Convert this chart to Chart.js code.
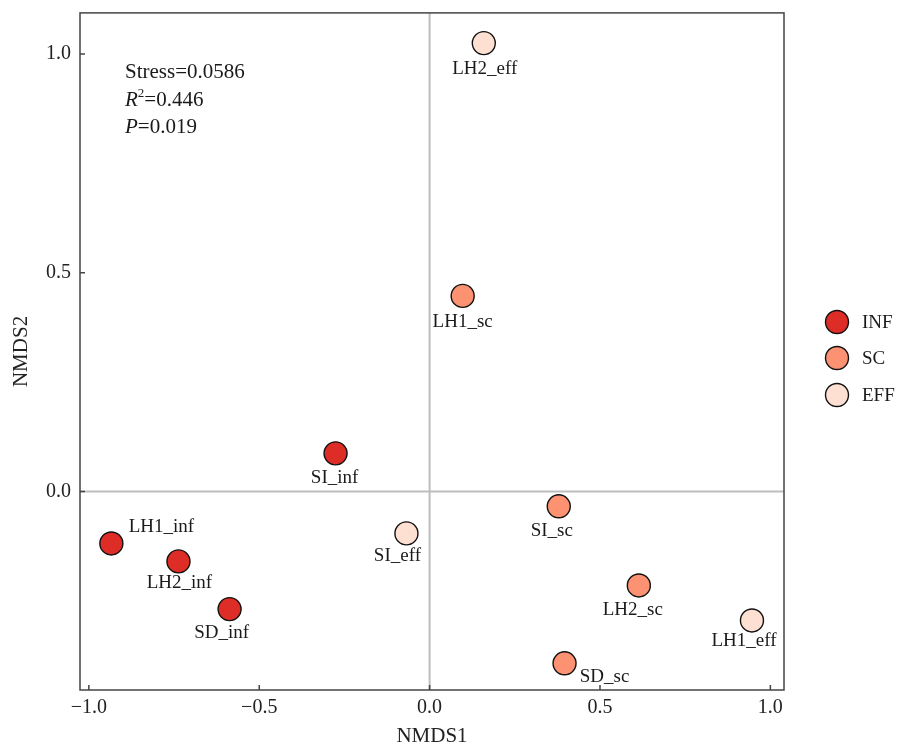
<!DOCTYPE html>
<html>
<head>
<meta charset="utf-8">
<script src="https://cdn.jsdelivr.net/npm/chart.js@4/dist/chart.umd.min.js"></script>
<style>
  html, body { margin: 0; padding: 0; background: #fff; }
  #wrap { width: 900px; height: 749px; }
</style>
</head>
<body>
<div id="wrap"><canvas id="c" width="900" height="749"></canvas></div>
<script>
// NMDS ordination scores per sample
const groups = ['INF', 'SC', 'EFF'];
const infNames = ['LH1_inf', 'LH2_inf', 'SD_inf', 'SI_inf'];
const infX = [-0.934, -0.737, -0.587, -0.276];
const infY = [-0.119, -0.160, -0.269, 0.087];
const scNames = ['LH1_sc', 'LH2_sc', 'SD_sc', 'SI_sc'];
const scX = [0.097, 0.614, 0.396, 0.379];
const scY = [0.447, -0.215, -0.393, -0.034];
const effNames = ['LH1_eff', 'LH2_eff', 'SI_eff'];
const effX = [0.946, 0.159, -0.068];
const effY = [-0.295, 1.025, -0.096];
const xTicks = [-1.0, -0.5, 0.0, 0.5, 1.0];
const yTicks = [0.0, 0.5, 1.0];
const stats = { stress: '0.0586', r2: '0.446', p: '0.019' };

const fills = { INF: '#DE2D26', SC: '#FC9272', EFF: '#FEE0D2' };
const FONT = '"Liberation Serif", "Times New Roman", serif';
const TEXT = '#1a1a1a';

// label offsets (px) relative to each point, repelled like ggrepel
const labelShift = {
  LH1_inf: [50, -16], LH2_inf: [1, 22], SD_inf: [-8, 24], SI_inf: [-1, 25],
  LH1_sc: [0, 26], LH2_sc: [-6, 25], SD_sc: [40, 14], SI_sc: [-7, 25],
  LH1_eff: [-8, 21], LH2_eff: [1, 26], SI_eff: [-9, 23]
};

function pts(xs, ys, names) {
  return xs.map((x, i) => ({ x: x, y: ys[i], name: names[i] }));
}

const datasets = [
  { label: 'INF', data: pts(infX, infY, infNames) },
  { label: 'SC', data: pts(scX, scY, scNames) },
  { label: 'EFF', data: pts(effX, effY, effNames) }
].map(d => ({
  ...d,
  backgroundColor: fills[d.label],
  borderColor: '#111',
  borderWidth: 1.4,
  pointRadius: 11.5,
  pointHoverRadius: 11.5
}));

const fmt = v => (v < 0 ? '\u2212' : '') + Math.abs(v).toFixed(1);

const decor = {
  id: 'decor',
  beforeDatasetsDraw(chart) {
    const { ctx, chartArea: a, scales: { x, y } } = chart;
    ctx.save();
    // zero reference lines
    ctx.strokeStyle = '#bdbdbd';
    ctx.lineWidth = 2;
    const x0 = x.getPixelForValue(0), y0 = y.getPixelForValue(0);
    ctx.beginPath();
    ctx.moveTo(x0, a.top); ctx.lineTo(x0, a.bottom);
    ctx.moveTo(a.left, y0); ctx.lineTo(a.right, y0);
    ctx.stroke();
    ctx.restore();
  },
  afterDatasetsDraw(chart) {
    const { ctx, chartArea: a, scales: { x, y } } = chart;
    ctx.save();
    // panel border
    ctx.strokeStyle = '#444';
    ctx.lineWidth = 1.5;
    ctx.strokeRect(a.left, a.top, a.right - a.left, a.bottom - a.top);
    // inward ticks
    ctx.beginPath();
    xTicks.forEach(v => {
      const px = x.getPixelForValue(v);
      ctx.moveTo(px, a.bottom); ctx.lineTo(px, a.bottom - 5);
    });
    yTicks.forEach(v => {
      const py = y.getPixelForValue(v);
      ctx.moveTo(a.left, py); ctx.lineTo(a.left + 5, py);
    });
    ctx.stroke();

    // point labels
    ctx.fillStyle = TEXT;
    ctx.font = '19px ' + FONT;
    ctx.textAlign = 'center';
    ctx.textBaseline = 'middle';
    chart.data.datasets.forEach(ds => {
      ds.data.forEach(p => {
        const s = labelShift[p.name] || [0, 24];
        ctx.fillText(p.name, x.getPixelForValue(p.x) + s[0], y.getPixelForValue(p.y) + s[1]);
      });
    });

    // fit statistics
    ctx.textAlign = 'left';
    ctx.textBaseline = 'alphabetic';
    const tx = a.left + 45;
    ctx.font = '21px ' + FONT;
    ctx.fillText('Stress=' + stats.stress, tx, 78);
    ctx.font = 'italic 21px ' + FONT;
    ctx.fillText('R', tx, 106);
    let w = ctx.measureText('R').width;
    ctx.font = '13px ' + FONT;
    ctx.fillText('2', tx + w, 97);
    w += ctx.measureText('2').width;
    ctx.font = '21px ' + FONT;
    ctx.fillText('=' + stats.r2, tx + w, 106);
    ctx.font = 'italic 21px ' + FONT;
    ctx.fillText('P', tx, 133);
    w = ctx.measureText('P').width;
    ctx.font = '21px ' + FONT;
    ctx.fillText('=' + stats.p, tx + w, 133);

    // legend
    const lx = 837, ly = [322, 358, 395];
    groups.forEach((g, i) => {
      ctx.beginPath();
      ctx.arc(lx, ly[i], 11.5, 0, Math.PI * 2);
      ctx.fillStyle = fills[g];
      ctx.fill();
      ctx.strokeStyle = '#111';
      ctx.lineWidth = 1.4;
      ctx.stroke();
      ctx.fillStyle = TEXT;
      ctx.font = '19px ' + FONT;
      ctx.textBaseline = 'middle';
      ctx.fillText(g, lx + 25, ly[i] + 1);
    });
    ctx.restore();
  }
};

new Chart(document.getElementById('c'), {
  type: 'scatter',
  data: { datasets },
  options: {
    responsive: false,
    animation: false,
    layout: { padding: { top: 12, right: 116, left: 0, bottom: 0 } },
    plugins: { legend: { display: false }, tooltip: { enabled: false } },
    scales: {
      x: {
        type: 'linear',
        min: -1.026, max: 1.04,
        afterBuildTicks: s => { s.ticks = xTicks.map(v => ({ value: v })); },
        afterFit: s => { s.height = 59; s.paddingLeft = 0; s.paddingRight = 0; },
        grid: { display: false, drawTicks: false },
        border: { display: false },
        ticks: { callback: fmt, color: '#222', font: { family: FONT, size: 20 }, padding: 6, maxRotation: 0 },
        title: { display: true, text: 'NMDS1', color: '#222', font: { family: FONT, size: 21 }, padding: { top: 0, bottom: 0 } }
      },
      y: {
        type: 'linear',
        min: -0.454, max: 1.094,
        afterBuildTicks: s => { s.ticks = yTicks.map(v => ({ value: v })); },
        afterFit: s => { s.width = 80; s.paddingTop = 0; s.paddingBottom = 0; },
        grid: { display: false, drawTicks: false },
        border: { display: false },
        ticks: { callback: fmt, color: '#222', font: { family: FONT, size: 20 }, padding: 9 },
        title: { display: true, text: 'NMDS2', color: '#222', font: { family: FONT, size: 21 }, padding: { top: 9, bottom: 0 } }
      }
    }
  },
  plugins: [decor]
});
</script>
</body>
</html>
